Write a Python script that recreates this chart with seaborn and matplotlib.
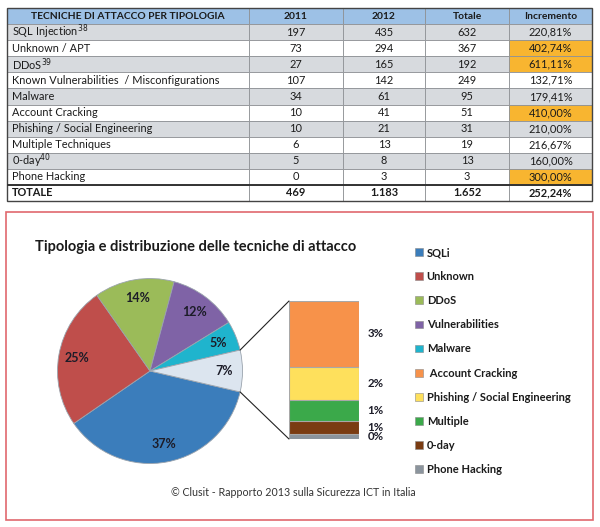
import matplotlib
matplotlib.use("Agg")

import matplotlib.pyplot as plt
import numpy as np
import seaborn as sns
from matplotlib.patches import ConnectionPatch, Patch, Rectangle
from matplotlib.table import Table

W, H = 600, 527

# table data
header = ["TECNICHE DI ATTACCO PER TIPOLOGIA", "2011", "2012", "Totale", "Incremento"]
techniques = [
    "SQL Injection", "Unknown / APT", "DDoS",
    "Known Vulnerabilities  / Misconfigurations", "Malware", "Account Cracking",
    "Phishing / Social Engineering", "Multiple Techniques", "0-day", "Phone Hacking",
]
footnotes = ["38", "", "39", "", "", "", "", "", "40", ""]
attacks_2011 = [197, 73, 27, 107, 34, 10, 10, 6, 5, 0]
attacks_2012 = [435, 294, 165, 142, 61, 41, 21, 13, 8, 3]
totals = [632, 367, 192, 249, 95, 51, 31, 19, 13, 3]
increments = ["220,81%", "402,74%", "611,11%", "132,71%", "179,41%",
              "410,00%", "210,00%", "216,67%", "160,00%", "300,00%"]
highlight = [False, True, True, False, False, True, False, False, False, True]
total_row = ["TOTALE", "469", "1.183", "1.652", "252,24%"]

# chart groups
pie_labels = ["SQLi", "Unknown", "DDoS", "Vulnerabilities", "Malware"]
bar_labels = [" Account Cracking", "Phishing / Social Engineering", "Multiple", "0-day", "Phone Hacking"]
pie_colors = ["#3B7DBB", "#BF4E4B", "#9BBB59", "#7F63A6", "#1FB4CD"]
other_color = "#DCE5EF"
bar_colors = ["#F7924A", "#FEE05C", "#3BA94A", "#7A3C12", "#8B949D"]

HEADER_BG = "#9DC1E6"
GREY_BG = "#D7DADE"
ORANGE_BG = "#F8B530"
TEXT = "#1b1b1b"

sns.set_theme(style="white")
plt.rcParams["font.family"] = ["Lato", "DejaVu Sans"]


def box(left, top, width, height):
    # pixel box -> figure fractions
    return [left / W, 1 - (top + height) / H, width / W, height / H]


fig = plt.figure(figsize=(W / 100, H / 100), dpi=100)

# ---- table ----
tax = fig.add_axes(box(7, 8, 585, 193))
tax.axis("off")
col_px = np.array([242, 94, 82, 84, 83])
col_w = col_px / col_px.sum()
rows = [header]
for name, fn, a, b, t, inc in zip(techniques, footnotes, attacks_2011, attacks_2012, totals, increments):
    label = name + (f"$^{{{fn}}}$" if fn else "")
    rows.append([label, str(a), str(b), str(t), inc])
rows.append(total_row)
row_h = 1 / len(rows)

tb = Table(tax, bbox=[0, 0, 1, 1])
for r, row in enumerate(rows):
    for c, txt in enumerate(row):
        body = 1 <= r <= len(techniques)
        if r == 0:
            fc = HEADER_BG
        elif body and c == 4 and highlight[r - 1]:
            fc = ORANGE_BG
        elif body and r % 2 == 1:
            fc = GREY_BG
        else:
            fc = "white"
        loc = "left" if (c == 0 and r > 0) else "center"
        cell = tb.add_cell(r, c, col_w[c], row_h, text=txt, loc=loc,
                           facecolor=fc, edgecolor="#8f9296")
        cell.set_linewidth(0.6)
        if c == 0:
            cell.PAD = 0.022
tb.auto_set_font_size(False)
tb.set_fontsize(7.9)
for (r, c), cell in tb.get_celld().items():
    txt = cell.get_text()
    txt.set_color(TEXT)
    if r == 0 or r == len(rows) - 1:
        txt.set_fontweight("bold")
    if r == 0:
        txt.set_fontsize(7.4)
tax.add_table(tb)
tax.axhline(row_h, color="#333333", lw=1.4)
tax.add_patch(Rectangle((0, 0), 1, 1, fill=False, edgecolor="#444444", lw=1.0,
                        transform=tax.transAxes, clip_on=False))

# ---- red frame ----
fig.add_artist(Rectangle((6 / W, 1 - 520 / H), 587 / W, 308 / H, transform=fig.transFigure,
                         fill=False, edgecolor="#E0686E", lw=1.2))

fig.text(35 / W, 1 - 247 / H, "Tipologia e distribuzione delle tecniche di attacco",
         ha="left", va="center", fontsize=10.5, fontweight="bold", color=TEXT)

# ---- pie ----
total_2012 = sum(attacks_2012)
bar_vals = attacks_2012[5:]
pie_vals = attacks_2012[:5] + [sum(bar_vals)]
half = pie_vals[-1] / total_2012 * 180

pax = fig.add_axes(box(150 - 92.5, 371 - 92.5, 185, 185))
pax.pie(pie_vals, colors=pie_colors + [other_color], startangle=-half, counterclock=False,
        autopct=lambda p: f"{p:.0f}%", pctdistance=0.8,
        wedgeprops=dict(edgecolor="#9aa3ad", linewidth=0.6),
        textprops=dict(fontsize=9, fontweight="bold", color="#1c1c28"))
pax.set_xlim(-1, 1)
pax.set_ylim(-1, 1)

# ---- stacked column of the small slice ----
bax = fig.add_axes(box(289, 301, 70, 138))
tops = np.cumsum(bar_vals[::-1])[::-1]
for top, color in zip(tops, bar_colors):
    sns.barplot(x=["Altro"], y=[top], color=color, saturation=1, width=1,
                edgecolor="#a8a8a8", linewidth=0.8, ax=bax)
for v, top in zip(bar_vals, tops):
    bax.annotate(f"{v / total_2012 * 100:.0f}%", xy=(1.0, (top - v / 2) / tops[0]),
                 xycoords="axes fraction", xytext=(6, 0),
                 textcoords="offset points", ha="left", va="center",
                 fontsize=8.3, fontweight="bold", color="#1c1c28", annotation_clip=False)
bax.set_xlim(-0.5, 0.5)
bax.set_ylim(0, tops[0])
bax.axis("off")

for sign, ybar in [(1, 1.0), (-1, 0.0)]:
    th = np.deg2rad(sign * half)
    fig.add_artist(ConnectionPatch(xyA=(np.cos(th), np.sin(th)), coordsA="data", axesA=pax,
                                   xyB=(0.0, ybar), coordsB="axes fraction", axesB=bax,
                                   color="#222222", lw=0.8))

# ---- legend ----
handles = [Patch(facecolor=c, edgecolor="#8a8a8a", lw=0.4, label=l)
           for l, c in zip(pie_labels + bar_labels, pie_colors + bar_colors)]
fig.legend(handles=handles, loc="upper left", bbox_to_anchor=(415 / W, 1 - 247 / H),
           frameon=False, prop=dict(weight="bold", size=8), handlelength=0.7,
           handleheight=0.7, handletextpad=0.35, labelspacing=1.18,
           borderpad=0, borderaxespad=0, labelcolor=TEXT)

fig.text(293 / W, 1 - 492 / H, "© Clusit - Rapporto 2013 sulla Sicurezza ICT in Italia",
         ha="center", va="center", fontsize=7.7, color="#333333")

fig.savefig("out.png", dpi=100)
